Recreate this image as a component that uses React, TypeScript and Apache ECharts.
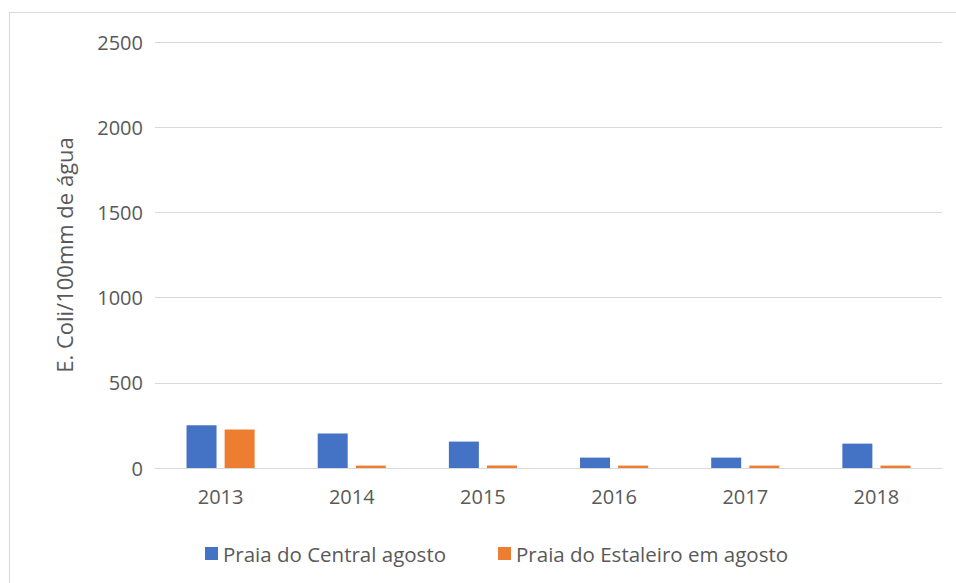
import React, { useEffect, useRef } from "react";
import * as echarts from "echarts";

const categories = ["2013", "2014", "2015", "2016", "2017", "2018"];
const centralValues = [251, 202, 155, 61, 61, 143];
const estaleiroValues = [226, 14, 14, 14, 14, 14];
const seriesNames = ["Praia do Central agosto", "Praia do Estaleiro em agosto"];
const yAxisTitle = "E. Coli/100mm de água";

export default function App() {
  const ref = useRef<HTMLDivElement>(null);
  useEffect(() => {
    if (!ref.current) return;
    const chart = echarts.init(ref.current, null, { renderer: "svg" });
    const font = "'Open Sans', 'Noto Sans', sans-serif";
    chart.setOption({
      animation: false,
      backgroundColor: "transparent",
      grid: { left: 155, right: 14, top: 42, bottom: 115, containLabel: false },
      legend: {
        top: 538,
        left: 200,
        itemWidth: 13,
        itemHeight: 13,
        itemGap: 52,
        icon: "rect",
        textStyle: { color: "#595959", fontSize: 20.5, fontFamily: font },
        data: seriesNames,
      },
      xAxis: {
        type: "category",
        data: categories,
        axisLine: { lineStyle: { color: "#d9d9d9", width: 1 } },
        axisTick: { show: false },
        axisLabel: { color: "#595959", fontSize: 20, fontFamily: font, margin: 18 },
      },
      yAxis: {
        type: "value",
        min: 0,
        max: 2500,
        interval: 500,
        name: yAxisTitle,
        nameLocation: "middle",
        nameGap: 80,
        nameTextStyle: { color: "#595959", fontSize: 22, fontFamily: font },
        axisLine: { show: false },
        axisTick: { show: false },
        axisLabel: {
          color: "#595959",
          fontSize: 20,
          fontFamily: font,
          margin: 12,
          formatter: (v: number) => String(v),
        },
        splitLine: { lineStyle: { color: "#d9d9d9", width: 1 } },
      },
      series: [
        {
          name: seriesNames[0],
          type: "bar",
          data: centralValues,
          barWidth: 30,
          barGap: "27%",
          itemStyle: { color: "#4472C4" },
        },
        {
          name: seriesNames[1],
          type: "bar",
          data: estaleiroValues,
          barWidth: 30,
          itemStyle: { color: "#ED7D31" },
        },
      ],
    });
    return () => chart.dispose();
  }, []);
  return (
    <div style={{ position: "fixed", left: 0, top: 0, width: 956, height: 583, background: "#fff", overflow: "hidden" }}>
      <div
        style={{
          position: "absolute",
          left: 9,
          top: 12,
          width: 960,
          height: 600,
          border: "1px solid #d9d9d9",
          boxSizing: "border-box",
        }}
      />
      <div ref={ref} style={{ position: "absolute", left: 0, top: 0, width: 956, height: 583 }} />
    </div>
  );
}
